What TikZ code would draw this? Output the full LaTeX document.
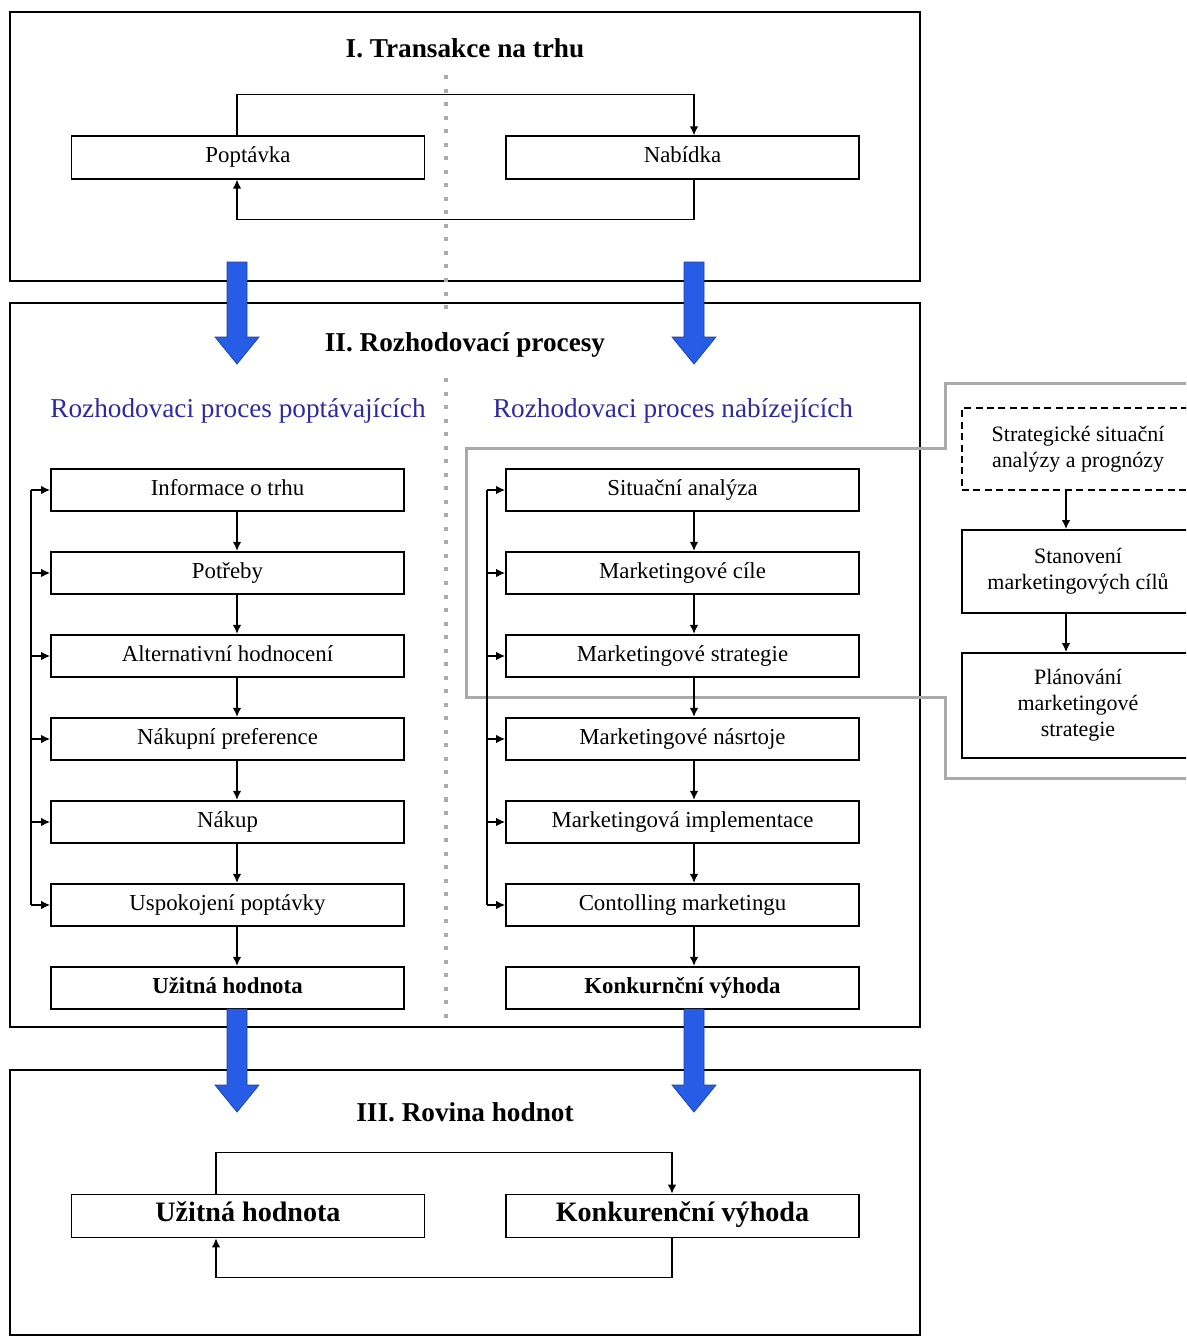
\documentclass[tikz,border=0pt]{standalone}
\usepackage{fontspec}
\setmainfont{Liberation Serif}
\usetikzlibrary{arrows.meta,calc}
\definecolor{flowblue}{RGB}{38,92,230}
\definecolor{headblue}{RGB}{48,42,160}
\definecolor{bandgray}{RGB}{170,170,170}

\tikzset{
  outerframe/.style={draw,line width=1.1pt},
  procbox/.style={draw,line width=1pt,minimum width=70.6mm,minimum height=8.5mm,
    inner sep=0pt,text height=1.9ex,text depth=0.55ex,font=\fontsize{13}{15}\selectfont},
  valuebox/.style={procbox,minimum height=8.6mm,font=\bfseries\fontsize{16}{18}\selectfont},
  sidebox/.style={draw,line width=1pt,minimum width=46.4mm,inner sep=0pt,align=center,
    font=\fontsize{12.5}{14.8}\selectfont},
  title/.style={font=\bfseries\fontsize{15.5}{18}\selectfont},
  subhead/.style={text=headblue,font=\fontsize{15.5}{18}\selectfont},
  flow/.style={-{Latex[length=1.8mm,width=1.7mm]},line width=0.8pt},
  link/.style={line width=0.8pt},
  midline/.style={gray!65,line width=2pt,dash pattern=on 2.3pt off 5.4pt},
  grayband/.style={bandgray,line width=0.6mm},
}
\newcommand\valuearrow[3]{%
  \fill[flowblue,draw=flowblue!70!black,line width=0.4pt]
    (#1-10,#2) -- (#1+10,#2) -- (#1+10,#3-27) -- (#1+22,#3-27) -- (#1,#3)
    -- (#1-22,#3-27) -- (#1-10,#3-27) -- cycle;}

\begin{document}
\begin{tikzpicture}[x=0.2mm,y=-0.2mm]
  \useasboundingbox (0,0) rectangle (1186,1338);
  \clip (0,0) rectangle (1186,1338);

  \draw[outerframe] (10,12) rectangle (920,281);
  \draw[outerframe] (10,303) rectangle (920,1027);
  \draw[outerframe] (10,1070) rectangle (920,1335);

  \draw[grayband] (1200,383) -- (945,383) -- (945,448) -- (466,448) -- (466,697)
    -- (945,697) -- (945,778) -- (1200,778);

  \draw[midline] (446,75) -- (446,318);
  \draw[midline] (446,378) -- (446,1025);

  \coordinate (lx) at (237,0);
  \coordinate (rx) at (694,0);
  \coordinate (lv) at (216,0);
  \coordinate (rv) at (672,0);
  \coordinate (lfb) at (31,0);
  \coordinate (rfb) at (487,0);
  \coordinate (sx) at (1066,0);

  % I
  \node[title] (t1) at (465,48) {I. Transakce na trhu};
  \node[procbox] (pop) at (248,157.5) {Poptávka};
  \node[procbox] (nab) at (682.5,157.5) {Nabídka};
  \draw[flow] (pop.north -| lx) -- ++(0,-41) -| (nab.north -| rx);
  \draw[flow] (nab.south -| rx) -- ++(0,40) -| (pop.south -| lx);

  % II
  \node[title] (t2) at (465,345) {II. Rozhodovací procesy};
  \node[subhead] (hl) at (238,411) {Rozhodovaci proces poptávajících};
  \node[subhead] (hr) at (673,411) {Rozhodovaci proces nabízejících};

  \foreach \txt [count=\i] in {Informace o trhu, Potřeby, Alternativní hodnocení,
      Nákupní preference, Nákup, Uspokojení poptávky}
    \node[procbox] (l\i) at (227.5,{407+83*\i}) {\txt};
  \node[procbox,font=\bfseries\fontsize{13}{15}\selectfont] (l7) at (227.5,988) {Užitná hodnota};

  \foreach \txt [count=\i] in {Situační analýza, Marketingové cíle, Marketingové strategie,
      Marketingové násrtoje, Marketingová implementace, Contolling marketingu}
    \node[procbox] (r\i) at (682.5,{407+83*\i}) {\txt};
  \node[procbox,font=\bfseries\fontsize{13}{15}\selectfont] (r7) at (682.5,988) {Konkurnční výhoda};

  \foreach \i [count=\j from 2] in {1,...,6} {
    \draw[flow] (l\i.south -| lx) -- (l\j.north -| lx);
    \draw[flow] (r\i.south -| rx) -- (r\j.north -| rx);
  }
  \draw[link] (lfb |- l1.west) -- (lfb |- l6.west);
  \draw[link] (rfb |- r1.west) -- (rfb |- r6.west);
  \foreach \i in {1,...,6} {
    \draw[flow] (lfb |- l\i.west) -- (l\i.west);
    \draw[flow] (rfb |- r\i.west) -- (r\i.west);
  }

  \node[sidebox,minimum height=16.4mm,dash pattern=on 4pt off 2.5pt] (s1) at (1078,449)
    {Strategické situační\\analýzy a prognózy};
  \node[sidebox,minimum height=16.6mm] (s2) at (1078,571.5) {Stanovení\\marketingových cílů};
  \node[sidebox,minimum height=21mm] (s3) at (1078,705.5) {Plánování\\marketingové\\strategie};
  \draw[flow] (s1.south -| sx) -- (s2.north -| sx);
  \draw[flow] (s2.south -| sx) -- (s3.north -| sx);

  % III
  \node[title] (t3) at (465,1112) {III. Rovina hodnot};
  \node[valuebox] (use3) at (248,1216) {Užitná hodnota};
  \node[valuebox] (comp3) at (682.5,1216) {Konkurenční výhoda};
  \draw[flow] (use3.north -| lv) -- ++(0,-41) -| (comp3.north -| rv);
  \draw[flow] (comp3.south -| rv) -- ++(0,39) -| (use3.south -| lv);

  \valuearrow{237}{262}{364}
  \valuearrow{694}{262}{364}
  \valuearrow{237}{1009}{1112}
  \valuearrow{694}{1009}{1112}
\end{tikzpicture}
\end{document}
